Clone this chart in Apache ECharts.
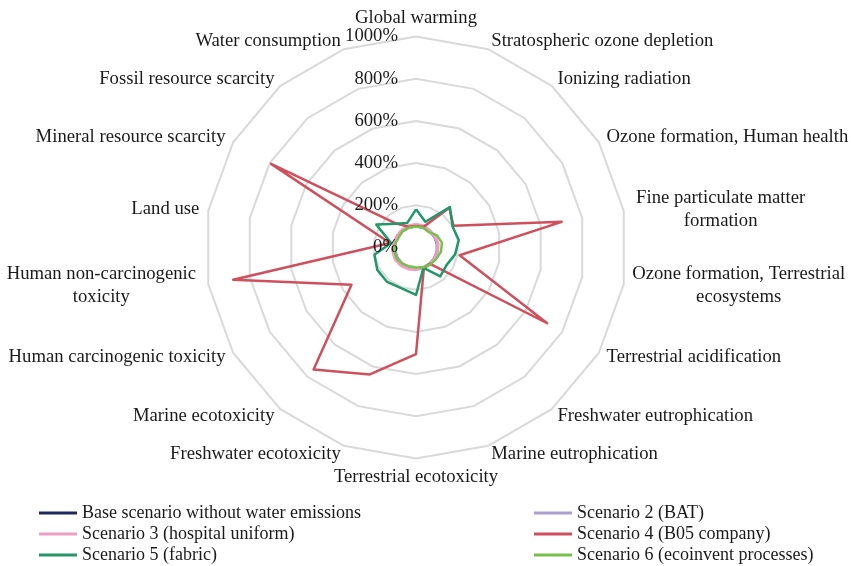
<!DOCTYPE html>
<html>
<head>
<meta charset="utf-8">
<script src="https://cdn.jsdelivr.net/npm/echarts@6/dist/echarts.min.js"></script>
<style>
  html, body { margin: 0; padding: 0; background: #fff; }
  #chart { width: 851px; height: 566px; }
</style>
</head>
<body>
<div id="chart"></div>
<script>
// impact categories, clockwise from the top (as in the original chart)
const categories = [
  "Global warming",
  "Stratospheric ozone depletion",
  "Ionizing radiation",
  "Ozone formation, Human health",
  "Fine particulate matter\nformation",
  "Ozone formation, Terrestrial\necosystems",
  "Terrestrial acidification",
  "Freshwater eutrophication",
  "Marine eutrophication",
  "Terrestrial ecotoxicity",
  "Freshwater ecotoxicity",
  "Marine ecotoxicity",
  "Human carcinogenic toxicity",
  "Human non-carcinogenic\ntoxicity",
  "Land use",
  "Mineral resource scarcity",
  "Fossil resource scarcity",
  "Water consumption"
];

const tickLabels = [0, 200, 400, 600, 800, 1000];

// values in % relative to the base scenario
const baseScenario = [100, 100, 100, 100, 100, 100, 100, 100, 100, 100, 100, 100, 100, 100, 100, 100, 100, 100];
const scenario2 = [101, 100, 99, 101, 102, 101, 100, 100, 100, 99, 99, 100, 101, 101, 100, 100, 100, 100];
const scenario3 = [110, 108, 104, 105, 106, 105, 104, 104, 104, 105, 108, 112, 113, 112, 108, 106, 106, 108];
const scenario4 = [102, 104, 246, 205, 701, 210, 718, 100, 108, 505, 640, 755, 353, 880, 125, 793, 150, 105];
const scenario5 = [181, 130, 250, 200, 206, 188, 167, 179, 103, 225, 205, 213, 212, 200, 120, 217, 147, 123];
const scenario6 = [100, 100, 95, 115, 125, 120, 110, 105, 100, 95, 95, 100, 105, 105, 100, 95, 100, 100];

const seriesNames = [
  "Base scenario without water emissions",
  "Scenario 2 (BAT)",
  "Scenario 3 (hospital uniform)",
  "Scenario 4 (B05 company)",
  "Scenario 5 (fabric)",
  "Scenario 6 (ecoinvent processes)"
];
const seriesValues = [baseScenario, scenario2, scenario3, scenario4, scenario5, scenario6];
const colors = ["#1d2a5b", "#ab9fcf", "#eba0c2", "#cf505d", "#23976a", "#79c04a"];
const widths = [2, 2.5, 3, 2.5, 2.5, 2.5];

// echarts lays indicators out counter-clockwise, so keep the first and reverse the rest
const toRadarOrder = (arr) => [arr[0], ...arr.slice(1).reverse()];

const FONT = "'Liberation Serif', 'Times New Roman', serif";
const FS = 18.7;

const chart = echarts.init(document.getElementById("chart"));

const legendBase = {
  orient: "vertical",
  top: 499,
  height: 70,
  itemGap: 3,
  itemWidth: 38,
  itemHeight: 3,
  icon: "rect",
  textStyle: { fontFamily: FONT, fontSize: 18, lineHeight: 18, color: "#1a1a1a" }
};

const option = {
  backgroundColor: "#fff",
  animation: false,
  textStyle: { fontFamily: FONT },
  radar: {
    center: [416, 247.5],
    radius: 211,
    shape: "polygon",
    splitNumber: 5,
    indicator: toRadarOrder(categories).map((name) => ({ name, min: 0, max: 1000 })),
    axisName: {
      color: "#1a1a1a",
      fontFamily: FONT,
      fontSize: FS,
      formatter: (name) => {
        if (name.indexOf("Fine particulate") === 0) {
          return name.split("\n").map((s) => "{fp|" + s + "}").join("\n");
        }
        if (name.indexOf("Ozone formation, Terrestrial") === 0) {
          return name.split("\n").map((s) => "{ot|" + s + "}").join("\n");
        }
        if (name.indexOf("Human non-carcinogenic") === 0) {
          return name.split("\n").map((s) => "{hn|" + s + "}").join("\n");
        }
        return name;
      },
      rich: {
        fp: { width: 176, align: "center", fontSize: FS, fontFamily: FONT, color: "#1a1a1a", lineHeight: 23 },
        ot: { width: 212, align: "center", fontSize: FS, fontFamily: FONT, color: "#1a1a1a", lineHeight: 23 },
        hn: { width: 196, align: "center", fontSize: FS, fontFamily: FONT, color: "#1a1a1a", lineHeight: 23 }
      }
    },
    nameGap: 9,
    axisLine: { show: false },
    axisTick: { show: false },
    splitArea: { show: false },
    splitLine: { lineStyle: { color: "#d9d9d9", width: 2 } }
  },
  // invisible value axis along the vertical spoke, only for the % tick labels
  grid: { left: 416, top: 36.5, height: 211, width: 1 },
  xAxis: { type: "value", show: false },
  yAxis: {
    type: "value",
    min: 0,
    max: 1000,
    interval: 200,
    axisLine: { show: false },
    axisTick: { show: false },
    splitLine: { show: false },
    axisLabel: {
      margin: 18,
      fontFamily: FONT,
      fontSize: FS,
      color: "#1a1a1a",
      formatter: (v) => (tickLabels.indexOf(v) >= 0 ? v + "%" : "")
    },
    z: 10
  },
  legend: [
    Object.assign({}, legendBase, { left: 34, data: [seriesNames[0], seriesNames[2], seriesNames[4]] }),
    Object.assign({}, legendBase, { left: 529, data: [seriesNames[1], seriesNames[3], seriesNames[5]] })
  ],
  series: seriesValues.map((vals, i) => ({
    name: seriesNames[i],
    type: "radar",
    symbol: "none",
    z: 2 + i,
    lineStyle: { color: colors[i], width: widths[i] },
    itemStyle: { color: colors[i] },
    data: [{ value: toRadarOrder(vals), name: seriesNames[i] }]
  }))
};

chart.setOption(option);
</script>
</body>
</html>
